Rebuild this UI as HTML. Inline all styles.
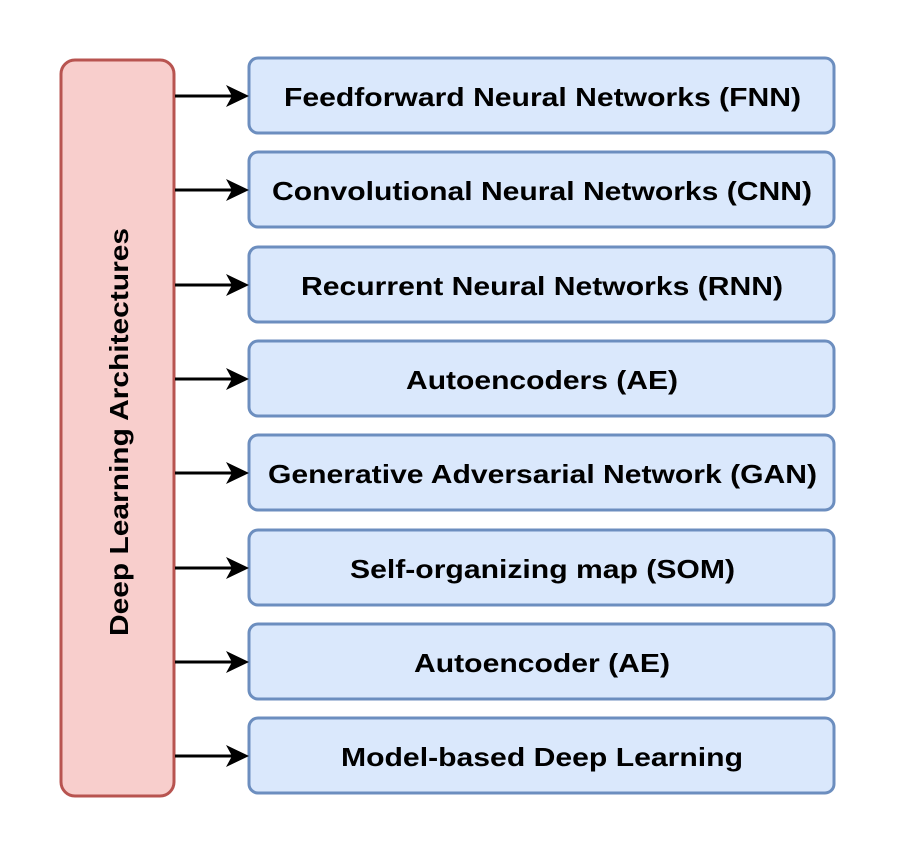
<!DOCTYPE html>
<html><head><meta charset="utf-8"><style>html,body{margin:0;padding:0;background:#fff}</style></head>
<body>
<svg width="897" height="857" xmlns="http://www.w3.org/2000/svg" font-family="Liberation Sans, Arial, sans-serif" font-weight="bold" font-size="26">
<rect x="61" y="60" width="113" height="736" rx="14" fill="#f8cecc" stroke="#b85450" stroke-width="3"/>
<text transform="translate(128,432) rotate(-90)" text-anchor="middle" textLength="408" lengthAdjust="spacingAndGlyphs">Deep Learning Architectures</text>
<g stroke="#6c8ebf" stroke-width="3" fill="#dae8fc">
<rect x="249" y="58" width="585" height="75" rx="9"/>
<rect x="249" y="152" width="585" height="75" rx="9"/>
<rect x="249" y="247" width="585" height="75" rx="9"/>
<rect x="249" y="341" width="585" height="75" rx="9"/>
<rect x="249" y="435" width="585" height="75" rx="9"/>
<rect x="249" y="530" width="585" height="75" rx="9"/>
<rect x="249" y="624" width="585" height="75" rx="9"/>
<rect x="249" y="718" width="585" height="75" rx="9"/>
</g>
<g fill="#000" lengthAdjust="spacingAndGlyphs">
<text x="284" y="106" textLength="517" lengthAdjust="spacingAndGlyphs">Feedforward Neural Networks (FNN)</text>
<text x="272" y="200" textLength="540" lengthAdjust="spacingAndGlyphs">Convolutional Neural Networks (CNN)</text>
<text x="301" y="295" textLength="482" lengthAdjust="spacingAndGlyphs">Recurrent Neural Networks (RNN)</text>
<text x="406" y="389" textLength="272" lengthAdjust="spacingAndGlyphs">Autoencoders (AE)</text>
<text x="268" y="483" textLength="549" lengthAdjust="spacingAndGlyphs">Generative Adversarial Network (GAN)</text>
<text x="350" y="578" textLength="385" lengthAdjust="spacingAndGlyphs">Self-organizing map (SOM)</text>
<text x="414" y="672" textLength="256" lengthAdjust="spacingAndGlyphs">Autoencoder (AE)</text>
<text x="341" y="766" textLength="402" lengthAdjust="spacingAndGlyphs">Model-based Deep Learning</text>
</g>
<g stroke="#000" stroke-width="3">
<line x1="175" y1="96" x2="232" y2="96"/>
<line x1="175" y1="190" x2="232" y2="190"/>
<line x1="175" y1="285" x2="232" y2="285"/>
<line x1="175" y1="379" x2="232" y2="379"/>
<line x1="175" y1="473" x2="232" y2="473"/>
<line x1="175" y1="568" x2="232" y2="568"/>
<line x1="175" y1="662" x2="232" y2="662"/>
<line x1="175" y1="756" x2="232" y2="756"/>
</g>
<g fill="#000">
<path d="M249 96 L226 85 L232 96 L226 107 Z"/>
<path d="M249 190 L226 179 L232 190 L226 201 Z"/>
<path d="M249 285 L226 274 L232 285 L226 296 Z"/>
<path d="M249 379 L226 368 L232 379 L226 390 Z"/>
<path d="M249 473 L226 462 L232 473 L226 484 Z"/>
<path d="M249 568 L226 557 L232 568 L226 579 Z"/>
<path d="M249 662 L226 651 L232 662 L226 673 Z"/>
<path d="M249 756 L226 745 L232 756 L226 767 Z"/>
</g>
</svg>
</body></html>
